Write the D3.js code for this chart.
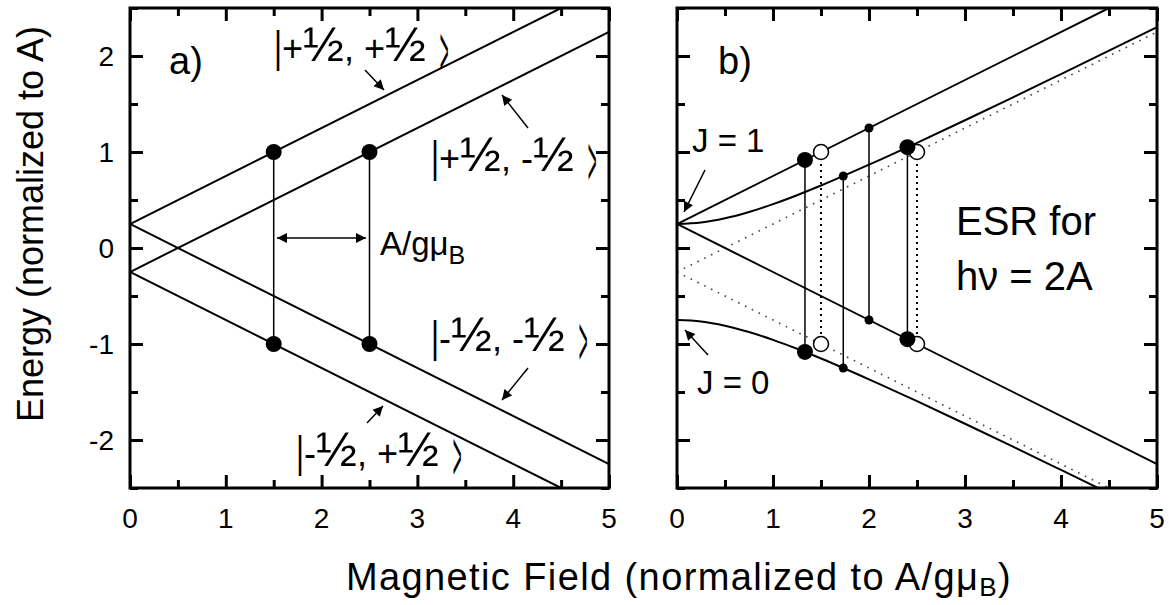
<!DOCTYPE html>
<html>
<head>
<meta charset="utf-8">
<script src="https://cdn.jsdelivr.net/npm/d3@7"></script>
<style>
  body { margin: 0; background: #fff; }
  svg text { font-family: "Liberation Sans", Arial, sans-serif; fill: #000; }
</style>
</head>
<body>
<svg id="fig" width="1169" height="605"></svg>
<script>
// --- data (x in A/gμB, E in A) ---
const xTicks = [0, 1, 2, 3, 4, 5];
const yTicks = [-2, -1, 0, 1, 2];
const xMinor = [0.5, 1.5, 2.5, 3.5, 4.5];
const yMinor = [-2.5, -1.5, -0.5, 0.5, 1.5, 2.5];

// panel a: uncoupled levels (straight, end points)
const levelsA = [
  [[0, 0.25], [4.5, 2.5]],
  [[0, -0.25], [5, 2.25]],
  [[0, 0.25], [5, -2.25]],
  [[0, -0.25], [4.5, -2.5]]
];
const dotsA_x = [1.5, 1.5, 2.5, 2.5];
const dotsA_y = [1, -1, 1, -1];

// panel b: triplet straight levels, uncoupled dotted guides
const levelsB = [
  [[0, 0.25], [4.5, 2.5]],
  [[0, 0.25], [5, -2.25]]
];
const guidesB = [
  [[0, -0.25], [5, 2.25]],
  [[0, -0.25], [4.5, -2.5]]
];
// mixed m=0 states
const curveX = [0, 0.25, 0.5, 0.75, 1, 1.25, 1.5, 2, 2.5, 3, 3.5, 4, 4.5, 5];
const upperE = [0.25, 0.265, 0.309, 0.375, 0.457, 0.55, 0.651, 0.868, 1.096, 1.331, 1.57, 1.812, 2.055, 2.3];
const lowerE = [-0.75, -0.765, -0.809, -0.875, -0.957, -1.05, -1.151, -1.368, -1.596, -1.831, -2.07, -2.312, -2.555, -2.8];

// ESR transitions (x, upper E, lower E)
const bigX = [1.333, 2.4], bigTop = [0.917, 1.05], bigBot = [-1.083, -0.95];
const smallX = [1.732, 2], smallTop = [0.75, 1.25], smallBot = [-1.25, -0.75];
const openX = [1.5, 2.5], openTop = [1, 1], openBot = [-1, -1];

class EnergyPanel {
    constructor(config) {
        this.config = {
            parent: config.parent,
            left: config.left,
            right: config.right,
            top: config.top || 8,
            bottom: config.bottom || 488,
            id: config.id,
            yLabels: config.yLabels || false
        };
        this.init();
    }

    init() {
        let self = this;
        self.xscale = d3.scaleLinear().domain([0, 5]).range([self.config.left, self.config.right]);
        self.yscale = d3.scaleLinear().domain([-2.5, 2.5]).range([self.config.bottom, self.config.top]);

        self.g = self.config.parent.append('g');
        self.g.append('defs').append('clipPath')
            .attr('id', 'clip-' + self.config.id)
            .append('rect')
            .attr('x', self.config.left).attr('y', self.config.top)
            .attr('width', self.config.right - self.config.left)
            .attr('height', self.config.bottom - self.config.top);

        self.plot = self.g.append('g').attr('clip-path', `url(#clip-${self.config.id})`);
        self.line = d3.line().x(d => self.xscale(d[0])).y(d => self.yscale(d[1]));
        self.curve = d3.line().curve(d3.curveMonotoneX).x(d => self.xscale(d[0])).y(d => self.yscale(d[1]));
    }

    levels(list, dotted) {
        let self = this;
        self.plot.selectAll(null)
            .data(list)
            .join('path')
            .attr('d', self.line)
            .attr('fill', 'none')
            .attr('stroke', dotted ? '#444' : '#000')
            .attr('stroke-width', dotted ? 1.6 : 2)
            .attr('stroke-dasharray', dotted ? '1.6,6' : null);
    }

    bent(xs, ys) {
        this.plot.append('path')
            .datum(xs.map((x, i) => [x, ys[i]]))
            .attr('d', this.curve)
            .attr('fill', 'none')
            .attr('stroke', '#000')
            .attr('stroke-width', 2);
    }

    transitions(xs, tops, bots, dotted) {
        let self = this;
        self.g.selectAll(null)
            .data(xs)
            .join('line')
            .attr('x1', d => self.xscale(d)).attr('x2', d => self.xscale(d))
            .attr('y1', (d, i) => self.yscale(tops[i]))
            .attr('y2', (d, i) => self.yscale(bots[i]))
            .attr('stroke', '#000')
            .attr('stroke-width', dotted ? 2 : 1.5)
            .attr('stroke-dasharray', dotted ? '2,4' : null);
    }

    dots(xs, ys, r, open) {
        let self = this;
        self.g.selectAll(null)
            .data(xs)
            .join('circle')
            .attr('cx', d => self.xscale(d))
            .attr('cy', (d, i) => self.yscale(ys[i]))
            .attr('r', r)
            .attr('fill', open ? '#fff' : '#000')
            .attr('stroke', '#000')
            .attr('stroke-width', open ? 1.5 : 0);
    }

    frame() {
        let self = this;
        const c = self.config;
        const sides = [
            [d3.axisBottom, self.xscale, `translate(0,${c.bottom})`],
            [d3.axisTop, self.xscale, `translate(0,${c.top})`],
            [d3.axisLeft, self.yscale, `translate(${c.left},0)`],
            [d3.axisRight, self.yscale, `translate(${c.right},0)`]
        ];
        sides.forEach(s => {
            const isX = s[1] === self.xscale;
            const major = s[0](s[1]).tickValues(isX ? xTicks : yTicks).tickSize(-13).tickFormat('');
            const minor = s[0](s[1]).tickValues(isX ? xMinor : yMinor).tickSize(-8).tickFormat('');
            [major, minor].forEach(ax => {
                const gg = self.g.append('g').attr('transform', s[2]).call(ax);
                gg.select('.domain').remove();
                gg.selectAll('line').attr('stroke', '#000').attr('stroke-width', 3);
            });
        });
        self.g.append('rect')
            .attr('x', c.left).attr('y', c.top)
            .attr('width', c.right - c.left).attr('height', c.bottom - c.top)
            .attr('fill', 'none').attr('stroke', '#000').attr('stroke-width', 3);

        // tick labels
        self.g.selectAll(null).data(xTicks).join('text')
            .attr('x', d => self.xscale(d)).attr('y', c.bottom + 40)
            .attr('text-anchor', 'middle').style('font-size', '28px')
            .text(d => d);
        if (c.yLabels) {
            self.g.selectAll(null).data(yTicks).join('text')
                .attr('x', c.left - 16).attr('y', d => self.yscale(d))
                .attr('dy', '0.36em')
                .attr('text-anchor', 'end').style('font-size', '28px')
                .text(d => d);
        }
    }
}

const svg = d3.select('#fig');

// arrow head
svg.append('defs').append('marker')
    .attr('id', 'head')
    .attr('viewBox', '0 0 10 10')
    .attr('refX', 10).attr('refY', 5)
    .attr('markerWidth', 13).attr('markerHeight', 10)
    .attr('markerUnits', 'userSpaceOnUse')
    .attr('orient', 'auto-start-reverse')
    .append('path').attr('d', 'M0,0 L10,5 L0,10 Z').attr('fill', '#000');

function arrow(x1, y1, x2, y2, both) {
    svg.append('line')
        .attr('x1', x1).attr('y1', y1).attr('x2', x2).attr('y2', y2)
        .attr('stroke', '#000').attr('stroke-width', 1.5)
        .attr('marker-end', 'url(#head)')
        .attr('marker-start', both ? 'url(#head)' : null);
}

// |a½, b½ ⟩  -- bar and bracket drawn as squeezed glyphs
function ket(x, base, a, b) {
    const g = svg.append('g');
    g.append('text')
        .attr('transform', `translate(${x},${base + 1}) scale(0.7,1)`)
        .style('font-size', '44px').text('|');
    const t = g.append('text').attr('x', x + 8).attr('y', base).style('font-size', '36px');
    t.append('tspan').text(a);
    t.append('tspan').style('font-size', '49px').text('½');
    t.append('tspan').text(', ' + b);
    t.append('tspan').style('font-size', '49px').text('½');
    const end = x + 8 + t.node().getComputedTextLength() + 14;
    g.append('text')
        .attr('transform', `translate(${end},${base + 14}) scale(0.42,1.95)`)
        .style('font-size', '36px').text('>');
}

// ---------- panel a ----------
const pa = new EnergyPanel({parent: svg, id: 'a', left: 130, right: 609, yLabels: true});
pa.levels(levelsA, false);
pa.transitions([1.5, 2.5], [1, 1], [-1, -1], false);
pa.dots(dotsA_x, dotsA_y, 8, false);
pa.frame();

svg.append('text').attr('x', 169).attr('y', 74).style('font-size', '38px').text('a)');
ket(274, 61, '+', '+');
arrow(365, 70, 384, 90);
ket(431, 171, '+', '-');
arrow(528, 128, 502, 95);
ket(431, 351, '-', '-');
arrow(528, 368, 502, 400);
ket(296, 466, '-', '+');
arrow(367, 423, 383, 406);

arrow(277, 238, 366, 238, true);
const ag = svg.append('text').attr('x', 380).attr('y', 255).style('font-size', '33px').text('A/gμ');
ag.append('tspan').attr('dy', 9).style('font-size', '25px').text('B');

// ---------- panel b ----------
const pb = new EnergyPanel({parent: svg, id: 'b', left: 677, right: 1157});
pb.levels(guidesB, true);
pb.levels(levelsB, false);
pb.bent(curveX, upperE);
pb.bent(curveX, lowerE);
pb.transitions(openX, openTop, openBot, true);
pb.transitions(bigX, bigTop, bigBot, false);
pb.transitions(smallX, smallTop, smallBot, false);
pb.dots(openX, openTop, 7.5, true);
pb.dots(openX, openBot, 7.5, true);
pb.dots(bigX, bigTop, 8, false);
pb.dots(bigX, bigBot, 8, false);
pb.dots(smallX, smallTop, 4.5, false);
pb.dots(smallX, smallBot, 4.5, false);
pb.frame();

svg.append('text').attr('x', 718).attr('y', 74).style('font-size', '38px').text('b)');
svg.append('text').attr('x', 692).attr('y', 152).style('font-size', '33px').text('J = 1');
arrow(705, 170, 684, 212);
svg.append('text').attr('x', 697).attr('y', 394).style('font-size', '33px').text('J = 0');
arrow(708, 355, 685, 330);
svg.append('text').attr('x', 956).attr('y', 235).style('font-size', '40px').text('ESR for');
svg.append('text').attr('x', 956).attr('y', 290).style('font-size', '40px').text('hν = 2A');

// ---------- axis titles ----------
svg.append('text')
    .attr('transform', 'translate(43,224) rotate(-90)')
    .attr('text-anchor', 'middle')
    .style('font-size', '36px')
    .text('Energy (normalized to A)');

const xt = svg.append('text').attr('x', 679).attr('y', 590)
    .attr('text-anchor', 'middle').style('font-size', '38px').style('letter-spacing', '1.4px');
xt.append('tspan').text('Magnetic Field (normalized to A/gμ');
xt.append('tspan').attr('dy', 6).style('font-size', '26px').text('B');
xt.append('tspan').attr('dy', -6).text(')');
</script>
</body>
</html>
